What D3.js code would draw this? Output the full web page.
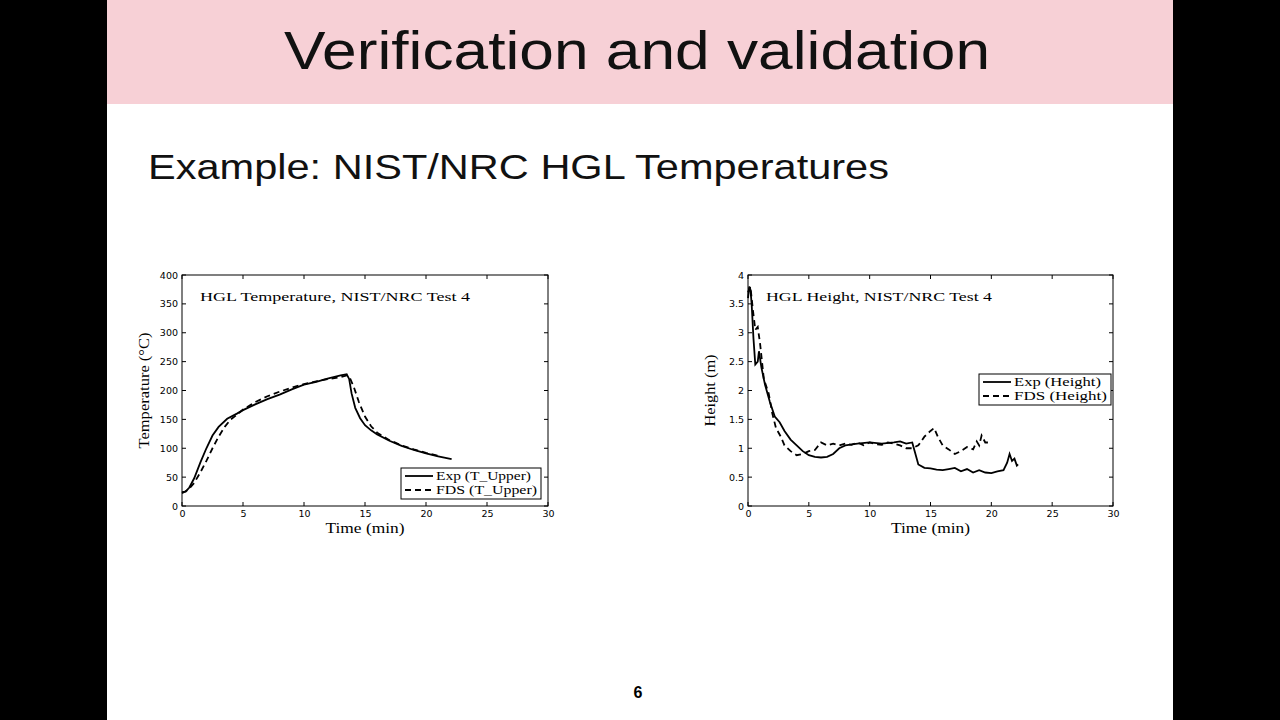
<!DOCTYPE html>
<html>
<head>
<meta charset="UTF-8">
<title>Verification and validation</title>
<style>
  body { margin: 0; background: #000; }
</style>
</head>
<body>
<script src="https://cdn.jsdelivr.net/npm/d3@7"></script>
<svg id="svg" width="1280" height="720"></svg>
<script>
// temperature data (time in min, value in °C)
const tempExpT = [0, 0.3, 0.6, 1, 1.5, 2, 2.5, 3, 3.7, 4.5, 5, 6, 7, 8, 9, 10, 11, 12, 13, 13.5, 13.7, 13.9, 14.2, 14.6, 15, 15.5, 16, 17, 18, 19, 20, 21, 22.1];
const tempExpV = [24, 25, 32, 48, 75, 100, 122, 137, 151, 160, 166, 176, 185, 193, 202, 210, 215, 221, 226, 228, 220, 195, 170, 152, 140, 131, 124, 113, 104, 97, 91, 86, 81];
const tempFdsT = [0, 0.5, 1, 1.5, 2, 2.5, 3, 3.5, 4, 4.5, 5, 6, 7, 8, 9, 10, 11, 12, 13, 13.5, 13.8, 14.1, 14.5, 15, 15.5, 16, 17, 18, 19, 20, 21];
const tempFdsV = [22, 28, 40, 58, 78, 100, 120, 137, 150, 158, 167, 180, 190, 198, 205, 211, 216, 220, 223, 226, 220, 205, 180, 155, 138, 127, 114, 105, 98, 92, 87];

// HGL height data (time in min, value in m)
const hgtExpT = [0, 0.1, 0.2, 0.3, 0.45, 0.6, 0.8, 0.9, 1.1, 1.4, 1.8, 2.2, 2.6, 3, 3.5, 4, 4.5, 5, 5.5, 6, 6.5, 7, 7.5, 8, 9, 10, 11, 12, 12.5, 13, 13.5, 13.7, 14, 14.5, 15, 15.5, 16, 16.5, 17, 17.5, 18, 18.5, 19, 19.5, 20, 20.5, 21, 21.3, 21.5, 21.7, 21.9, 22.1, 22.2];
const hgtExpV = [3.6, 3.8, 3.75, 3.5, 2.9, 2.45, 2.5, 2.68, 2.4, 2.1, 1.8, 1.55, 1.45, 1.3, 1.15, 1.05, 0.95, 0.88, 0.85, 0.84, 0.85, 0.9, 1.0, 1.05, 1.08, 1.1, 1.08, 1.1, 1.12, 1.08, 1.1, 0.95, 0.72, 0.66, 0.65, 0.63, 0.62, 0.64, 0.66, 0.6, 0.64, 0.58, 0.62, 0.58, 0.57, 0.6, 0.62, 0.75, 0.9, 0.78, 0.82, 0.7, 0.72];
const hgtFdsT = [0, 0.2, 0.4, 0.6, 0.8, 1, 1.3, 1.7, 2, 2.3, 2.7, 3, 3.5, 4, 4.5, 5, 5.5, 6, 6.5, 7, 7.5, 8, 8.5, 9, 9.5, 10, 10.5, 11, 11.5, 12, 12.5, 13, 13.5, 14, 14.5, 15, 15.3, 15.6, 16, 16.5, 17, 17.5, 18, 18.5, 18.8, 19, 19.2, 19.5, 20];
const hgtFdsV = [3.7, 3.8, 3.4, 3.05, 3.1, 2.8, 2.2, 1.95, 1.6, 1.35, 1.2, 1.05, 0.95, 0.88, 0.9, 0.95, 0.97, 1.1, 1.05, 1.08, 1.05, 1.08, 1.06, 1.1, 1.05, 1.1, 1.07, 1.06, 1.1, 1.08, 1.05, 1.0, 1.0, 1.05, 1.2, 1.3, 1.35, 1.2, 1.05, 0.98, 0.9, 0.95, 1.02, 0.98, 1.12, 1.05, 1.22, 1.1, 1.1];

const xTicks = [0, 5, 10, 15, 20, 25, 30];
const tempTicks = [0, 50, 100, 150, 200, 250, 300, 350, 400];
const hgtTicks = [0, 0.5, 1, 1.5, 2, 2.5, 3, 3.5, 4];

const svg = d3.select("#svg");

// slide background
svg.append("rect").attr("x", 107).attr("y", 0).attr("width", 1066).attr("height", 720).attr("fill", "#fff");
svg.append("rect").attr("x", 107).attr("y", 0).attr("width", 1066).attr("height", 104).attr("fill", "#f7d0d6");
svg.append("text").attr("x", 284).attr("y", 69)
    .attr("font-family", "Liberation Sans, Arial, sans-serif").attr("font-size", 54).attr("fill", "#111")
    .attr("textLength", 706).attr("lengthAdjust", "spacingAndGlyphs")
    .text("Verification and validation");
svg.append("text").attr("x", 148).attr("y", 179)
    .attr("font-family", "Liberation Sans, Arial, sans-serif").attr("font-size", 35).attr("fill", "#111")
    .attr("textLength", 741).attr("lengthAdjust", "spacingAndGlyphs")
    .text("Example: NIST/NRC HGL Temperatures");
svg.append("text").attr("x", 638).attr("y", 698).attr("text-anchor", "middle")
    .attr("font-family", "Liberation Sans, Arial, sans-serif").attr("font-size", 16).attr("font-weight", "bold")
    .text("6");

const serif = "Liberation Serif, Times New Roman, serif";

const drawPanel = function (opt) {
    const g = svg.append("g");
    const x = d3.scaleLinear().domain([0, 30]).range([opt.x0, opt.x1]);
    const y = d3.scaleLinear().domain(opt.yDomain).range([506, 275]);

    const xa = g.append("g").attr("transform", "translate(0,506)")
        .call(d3.axisBottom(x).tickValues(xTicks).tickSize(0).tickPadding(4));
    const ya = g.append("g").attr("transform", `translate(${opt.x0},0)`)
        .call(d3.axisLeft(y).tickValues(opt.yTicks).tickSize(0).tickPadding(4).tickFormat(d3.format("")));
    [xa, ya].forEach(a => {
        a.select(".domain").remove();
        a.selectAll("text").attr("font-family", "DejaVu Sans, sans-serif").attr("font-size", 9.5).attr("fill", "#000");
    });
    // inward ticks on all four sides
    xTicks.forEach(t => {
        g.append("line").attr("x1", x(t)).attr("x2", x(t)).attr("y1", 506).attr("y2", 502).attr("stroke", "#000");
        g.append("line").attr("x1", x(t)).attr("x2", x(t)).attr("y1", 275).attr("y2", 279).attr("stroke", "#000");
    });
    opt.yTicks.forEach(t => {
        g.append("line").attr("x1", opt.x0).attr("x2", opt.x0 + 4).attr("y1", y(t)).attr("y2", y(t)).attr("stroke", "#000");
        g.append("line").attr("x1", opt.x1).attr("x2", opt.x1 - 4).attr("y1", y(t)).attr("y2", y(t)).attr("stroke", "#000");
    });
    g.append("rect").attr("x", opt.x0).attr("y", 275).attr("width", opt.x1 - opt.x0).attr("height", 231)
        .attr("fill", "none").attr("stroke", "#000").attr("stroke-width", 1);

    const line = d3.line().x(d => x(d[0])).y(d => y(d[1]));
    g.append("path").datum(d3.zip(opt.expT, opt.expV)).attr("d", line)
        .attr("fill", "none").attr("stroke", "#000").attr("stroke-width", 1.8);
    g.append("path").datum(d3.zip(opt.fdsT, opt.fdsV)).attr("d", line)
        .attr("fill", "none").attr("stroke", "#000").attr("stroke-width", 1.8).attr("stroke-dasharray", "6,4");

    g.append("text").attr("x", opt.x0 + 18).attr("y", 301).attr("font-family", serif).attr("font-size", 13)
        .attr("textLength", opt.titleLen).attr("lengthAdjust", "spacingAndGlyphs")
        .text(opt.title);
    g.append("text").attr("x", (opt.x0 + opt.x1) / 2).attr("y", 533).attr("text-anchor", "middle")
        .attr("font-family", serif).attr("font-size", 14).attr("textLength", 79).attr("lengthAdjust", "spacingAndGlyphs")
        .text("Time (min)");
    g.append("text").attr("transform", `translate(${opt.x0 - 33},${(275 + 506) / 2}) rotate(-90)`)
        .attr("text-anchor", "middle").attr("font-family", serif).attr("font-size", 14)
        .attr("textLength", opt.yLabelLen).attr("lengthAdjust", "spacingAndGlyphs").text(opt.yLabel);

    // legend
    const L = opt.legend;
    g.append("rect").attr("x", L.x).attr("y", L.y).attr("width", L.w).attr("height", 31)
        .attr("fill", "#fff").attr("stroke", "#000");
    [["Exp", null], ["FDS", "6,4"]].forEach((s, i) => {
        const ly = L.y + 8 + i * 14;
        g.append("line").attr("x1", L.x + 4).attr("x2", L.x + 32).attr("y1", ly).attr("y2", ly)
            .attr("stroke", "#000").attr("stroke-width", 1.8).attr("stroke-dasharray", s[1]);
        g.append("text").attr("x", L.x + 35).attr("y", ly + 4).attr("font-family", serif).attr("font-size", 11.5)
            .attr("textLength", L.w - 42 + (i ? 3 : -3)).attr("lengthAdjust", "spacingAndGlyphs")
            .text(s[0] + " " + L.label);
    });
};

drawPanel({
    x0: 182, x1: 548, yDomain: [0, 400], yTicks: tempTicks,
    expT: tempExpT, expV: tempExpV, fdsT: tempFdsT, fdsV: tempFdsV,
    title: "HGL Temperature, NIST/NRC Test 4", titleLen: 270,
    yLabel: "Temperature (°C)", yLabelLen: 116,
    legend: { x: 401, y: 468, w: 140, label: "(T_Upper)" }
});
drawPanel({
    x0: 748, x1: 1113, yDomain: [0, 4], yTicks: hgtTicks,
    expT: hgtExpT, expV: hgtExpV, fdsT: hgtFdsT, fdsV: hgtFdsV,
    title: "HGL Height, NIST/NRC Test 4", titleLen: 226,
    yLabel: "Height (m)", yLabelLen: 72,
    legend: { x: 979, y: 374, w: 132, label: "(Height)" }
});
</script>
</body>
</html>
